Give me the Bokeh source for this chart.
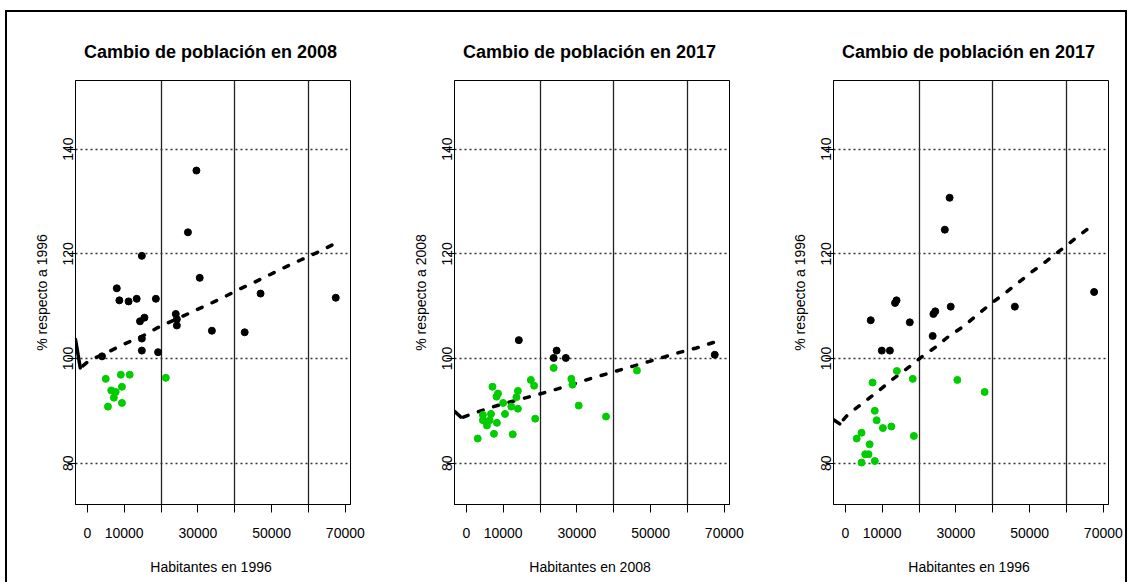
from bokeh.plotting import figure
from bokeh.models import Range1d, FixedTicker
from bokeh.layouts import row
from bokeh.embed import file_html
from bokeh.resources import INLINE

# ---------------- data ----------------
titles = ["Cambio de población en  2008", "Cambio de población en  2017", "Cambio de población en  2017"]
x_labels = ["Habitantes en  1996", "Habitantes en  2008", "Habitantes en  1996"]
y_labels = ["% respecto a 1996", "% respecto a 2008", "% respecto a 1996"]

x_ticks = [0, 10000, 20000, 30000, 40000, 50000, 60000, 70000]
x_tick_labels = ["0", "10000", "", "30000", "", "50000", "", "70000"]
y_ticks = [80, 100, 120, 140]
y_tick_labels = ["80", "100", "120", "140"]
v_lines = [20000, 40000, 60000]
h_lines = [80, 100, 120, 140]

# panel 1: 2008 vs 1996
p1_black_x = [29600, 27300, 14800, 30500, 8000, 47000, 67400, 8700, 11200, 13400, 18600,
              24000, 24300, 24300, 14300, 15500, 14800, 14800, 19200, 4000, 33800, 42700]
p1_black_y = [135.9, 124.1, 119.6, 115.4, 113.4, 112.4, 111.6, 111.1, 110.9, 111.4, 111.4,
              108.5, 107.5, 106.3, 107.1, 107.8, 103.8, 101.5, 101.2, 100.4, 105.3, 105.0]
p1_green_x = [5000, 9100, 11500, 21300, 9400, 6500, 7700, 7200, 9400, 5600]
p1_green_y = [96.1, 96.9, 96.9, 96.3, 94.6, 93.9, 93.6, 92.5, 91.5, 90.8]
p1_head_x = [-3200, -1900]
p1_head_y = [103.6, 98.2]
p1_curve_x = [-1200, 0, 1770, 6110, 10450, 14790, 19130, 23470, 27810, 32150, 36490, 40830,
              45170, 49510, 53850, 58190, 62530, 67070, 68500]
p1_curve_y = [98.6, 99.3, 100.0, 101.4, 102.9, 104.2, 105.9, 107.3, 108.7, 110.1, 111.5, 113.1,
              114.5, 116.0, 117.5, 118.9, 120.3, 121.9, 122.3]

# panel 2: 2017 vs 2008
p2_black_x = [14250, 24500, 23700, 27000, 67400]
p2_black_y = [103.5, 101.5, 100.1, 100.1, 100.7]
p2_green_x = [23700, 46300, 17500, 18400, 28500, 28800, 7100, 14000, 8600, 8200, 13600, 10000,
              12200, 14000, 30500, 10500, 6700, 4500, 4500, 6300, 8300, 5600, 37900, 18700,
              7500, 12600, 3100]
p2_green_y = [98.2, 97.7, 95.9, 94.8, 96.1, 95.0, 94.6, 93.8, 93.3, 92.7, 92.6, 91.5,
              90.8, 90.4, 91.0, 89.4, 89.4, 89.2, 88.2, 88.2, 87.7, 87.2, 88.9, 88.5,
              85.6, 85.5, 84.7]
p2_head_x = [-3200, -1500]
p2_head_y = [89.9, 88.8]
p2_curve_x = [-800, 1500, 6020, 10370, 14620, 18960, 23390, 27730, 32070, 36410, 40750, 45090,
              49430, 53770, 58110, 62450, 66790, 68000]
p2_curve_y = [88.8, 89.4, 90.5, 91.4, 92.2, 93.0, 93.9, 94.8, 95.8, 96.7, 97.6, 98.5,
              99.4, 100.3, 101.2, 102.0, 103.0, 103.2]

# panel 3: 2017 vs 1996
p3_black_x = [28300, 27000, 67500, 13900, 13500, 28600, 46000, 23900, 24400, 6900, 17500, 23700, 9900, 12100]
p3_black_y = [130.7, 124.6, 112.7, 111.1, 110.6, 109.9, 109.9, 108.5, 109.0, 107.3, 106.9, 104.3, 101.5, 101.5]
p3_green_x = [14000, 18300, 30400, 7400, 37800, 8000, 8500, 10200, 12500, 18600, 4400, 3100,
              6600, 5400, 6300, 4400, 8000]
p3_green_y = [97.6, 96.1, 95.9, 95.4, 93.6, 90.0, 88.2, 86.7, 87.0, 85.2, 85.8, 84.7,
              83.6, 81.7, 81.7, 80.1, 80.4]
p3_head_x = [-3200, -1500]
p3_head_y = [88.3, 87.5]
p3_curve_x = [-500, 870, 4860, 8820, 12810, 16790, 20760, 24560, 28000, 31990, 35600, 39200,
              43190, 46800, 50520, 54590, 58580, 62730, 66610, 67500]
p3_curve_y = [88.3, 89.4, 91.5, 93.7, 96.0, 98.1, 100.3, 102.2, 104.2, 106.1, 108.2, 110.3,
              112.4, 114.4, 116.5, 118.6, 120.8, 123.1, 125.2, 125.7]

X_RANGE = (-3200, 71400)
Y_RANGE = (72.1, 153.1)

FONT = "Liberation Sans"
GREEN = "#00CD00"


def make_panel(i, bx, by, gx, gy, hx, hy, cx, cy, width, right_border):
    p = figure(width=width, height=570, output_backend="svg", toolbar_location=None,
               x_range=Range1d(*X_RANGE), y_range=Range1d(*Y_RANGE),
               min_border_left=68, min_border_right=right_border,
               min_border_top=68, min_border_bottom=78)
    p.background_fill_color = "white"
    p.border_fill_color = "white"
    p.outline_line_color = "black"
    p.outline_line_width = 1

    p.title.text = titles[i]
    p.title.align = "center"
    p.title.text_font = FONT
    p.title.text_font_size = "18px"
    p.title.text_font_style = "bold"
    p.title.text_color = "black"
    p.title.standoff = 38

    # reference lines (abline) as grid lines
    p.xgrid.ticker = FixedTicker(ticks=v_lines)
    p.xgrid.grid_line_color = "#222222"
    p.xgrid.grid_line_width = 1.3
    p.ygrid.ticker = FixedTicker(ticks=h_lines)
    p.ygrid.grid_line_color = "#333333"
    p.ygrid.grid_line_width = 1.5
    p.ygrid.grid_line_dash = "2 3"

    xa = p.xaxis[0]
    xa.ticker = FixedTicker(ticks=x_ticks)
    xa.major_label_overrides = {t: l for t, l in zip(x_ticks, x_tick_labels)}
    ya = p.yaxis[0]
    ya.ticker = FixedTicker(ticks=y_ticks)
    ya.major_label_overrides = {t: l for t, l in zip(y_ticks, y_tick_labels)}
    ya.major_label_orientation = "vertical"
    xa.axis_label = x_labels[i]
    ya.axis_label = y_labels[i]
    for ax in (xa, ya):
        ax.major_tick_out = 8
        ax.major_tick_in = 0
        ax.minor_tick_out = 0
        ax.minor_tick_in = 0
        ax.major_tick_line_color = "black"
        ax.axis_line_color = "black"
        ax.major_label_text_font = FONT
        ax.major_label_text_font_size = "14px"
        ax.major_label_text_color = "black"
        ax.axis_label_text_font = FONT
        ax.axis_label_text_font_size = "14px"
        ax.axis_label_text_font_style = "normal"
        ax.axis_label_text_color = "black"
    xa.major_label_standoff = 15
    xa.axis_label_standoff = 18
    ya.major_label_standoff = -6
    ya.axis_label_standoff = 11

    p.line(hx, hy, line_color="black", line_width=3.5, line_cap="round")
    p.line(cx, cy, line_color="black", line_width=3.5, line_dash="5 11", line_cap="round")
    p.scatter(bx, by, size=7, color="black")
    p.scatter(gx, gy, size=7, color=GREEN)
    return p


f1 = make_panel(0, p1_black_x, p1_black_y, p1_green_x, p1_green_y, p1_head_x, p1_head_y,
                p1_curve_x, p1_curve_y, 379, 36)
f2 = make_panel(1, p2_black_x, p2_black_y, p2_green_x, p2_green_y, p2_head_x, p2_head_y,
                p2_curve_x, p2_curve_y, 379, 36)
f3 = make_panel(2, p3_black_x, p3_black_y, p3_green_x, p3_green_y, p3_head_x, p3_head_y,
                p3_curve_x, p3_curve_y, 360, 17)

layout = row(f1, f2, f3, styles={"border-top": "2px solid black",
                                 "border-left": "2px solid black",
                                 "border-right": "2px solid black",
                                 "margin-left": "5px",
                                 "margin-top": "10px"})

open("out.html", "w").write(file_html(layout, INLINE))
